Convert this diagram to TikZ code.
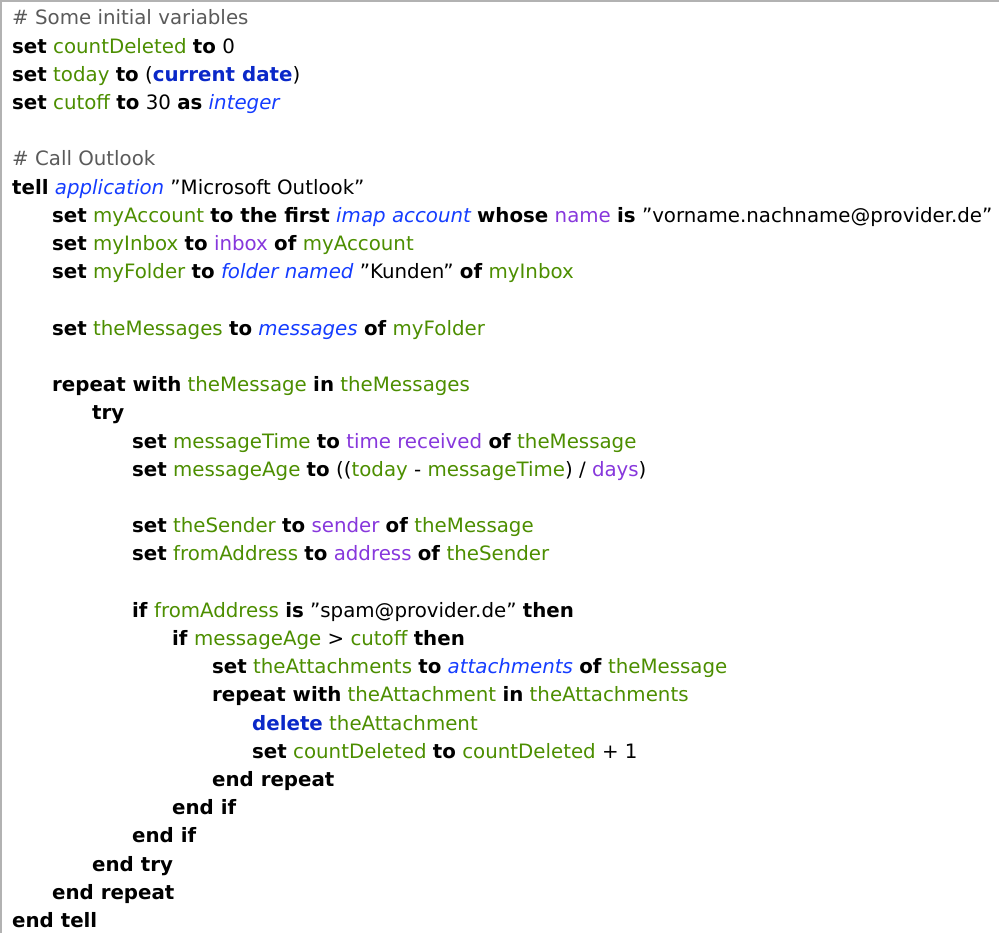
\documentclass[tikz,border=0pt]{standalone}
\usepackage{fontspec}
\setmainfont{DejaVu Sans}
\definecolor{vgreen}{RGB}{76,142,0}
\definecolor{ppurple}{RGB}{135,55,220}
\definecolor{cblue}{RGB}{20,60,255}
\definecolor{bblue}{RGB}{10,40,200}
\definecolor{cgray}{RGB}{90,90,90}
\newcommand\kw[1]{\textbf{#1}}
\newcommand\vr[1]{\textcolor{vgreen}{#1}}
\newcommand\pp[1]{\textcolor{ppurple}{#1}}
\newcommand\cl[1]{\textcolor{cblue}{\itshape #1}}
\newcommand\bb[1]{\textcolor{bblue}{\bfseries #1}}
\newcommand\cm[1]{\textcolor{cgray}{#1}}
\newcommand\qq[1]{\symbol{34}#1\symbol{34}}
\newcommand\Ln[3]{\node[ln] (l#1) at ({12+40*#2},{-(25+28.2*(#1-1))}) {#3};}
\begin{document}
\begin{tikzpicture}[x=1pt,y=1pt,ln/.style={anchor=base west,inner sep=0pt,font=\fontsize{19.8}{22}\selectfont}]
\useasboundingbox (0,0) rectangle (999,-933);
\draw[gray!60,line width=1.5] (1,-933) -- (1,-1) -- (999,-1);
\Ln{1}{0}{\cm{\# Some initial variables}}
\Ln{2}{0}{\kw{set} \vr{countDeleted} \kw{to} 0}
\Ln{3}{0}{\kw{set} \vr{today} \kw{to} (\bb{current date})}
\Ln{4}{0}{\kw{set} \vr{cutoff} \kw{to} 30 \kw{as} \cl{integer}}
\Ln{6}{0}{\cm{\# Call Outlook}}
\Ln{7}{0}{\kw{tell} \cl{application} \qq{Microsoft Outlook}}
\Ln{8}{1}{\kw{set} \vr{myAccount} \kw{to the first} \cl{imap account} \kw{whose} \pp{name} \kw{is} \qq{vorname.nachname@provider.de}}
\Ln{9}{1}{\kw{set} \vr{myInbox} \kw{to} \pp{inbox} \kw{of} \vr{myAccount}}
\Ln{10}{1}{\kw{set} \vr{myFolder} \kw{to} \cl{folder} \cl{named} \qq{Kunden} \kw{of} \vr{myInbox}}
\Ln{12}{1}{\kw{set} \vr{theMessages} \kw{to} \cl{messages} \kw{of} \vr{myFolder}}
\Ln{14}{1}{\kw{repeat with} \vr{theMessage} \kw{in} \vr{theMessages}}
\Ln{15}{2}{\kw{try}}
\Ln{16}{3}{\kw{set} \vr{messageTime} \kw{to} \pp{time received} \kw{of} \vr{theMessage}}
\Ln{17}{3}{\kw{set} \vr{messageAge} \kw{to} ((\vr{today} - \vr{messageTime}) / \pp{days})}
\Ln{19}{3}{\kw{set} \vr{theSender} \kw{to} \pp{sender} \kw{of} \vr{theMessage}}
\Ln{20}{3}{\kw{set} \vr{fromAddress} \kw{to} \pp{address} \kw{of} \vr{theSender}}
\Ln{22}{3}{\kw{if} \vr{fromAddress} \kw{is} \qq{spam@provider.de} \kw{then}}
\Ln{23}{4}{\kw{if} \vr{messageAge} > \vr{cutoff} \kw{then}}
\Ln{24}{5}{\kw{set} \vr{theAttachments} \kw{to} \cl{attachments} \kw{of} \vr{theMessage}}
\Ln{25}{5}{\kw{repeat with} \vr{theAttachment} \kw{in} \vr{theAttachments}}
\Ln{26}{6}{\bb{delete} \vr{theAttachment}}
\Ln{27}{6}{\kw{set} \vr{countDeleted} \kw{to} \vr{countDeleted} + 1}
\Ln{28}{5}{\kw{end repeat}}
\Ln{29}{4}{\kw{end if}}
\Ln{30}{3}{\kw{end if}}
\Ln{31}{2}{\kw{end try}}
\Ln{32}{1}{\kw{end repeat}}
\Ln{33}{0}{\kw{end tell}}
\end{tikzpicture}
\end{document}
